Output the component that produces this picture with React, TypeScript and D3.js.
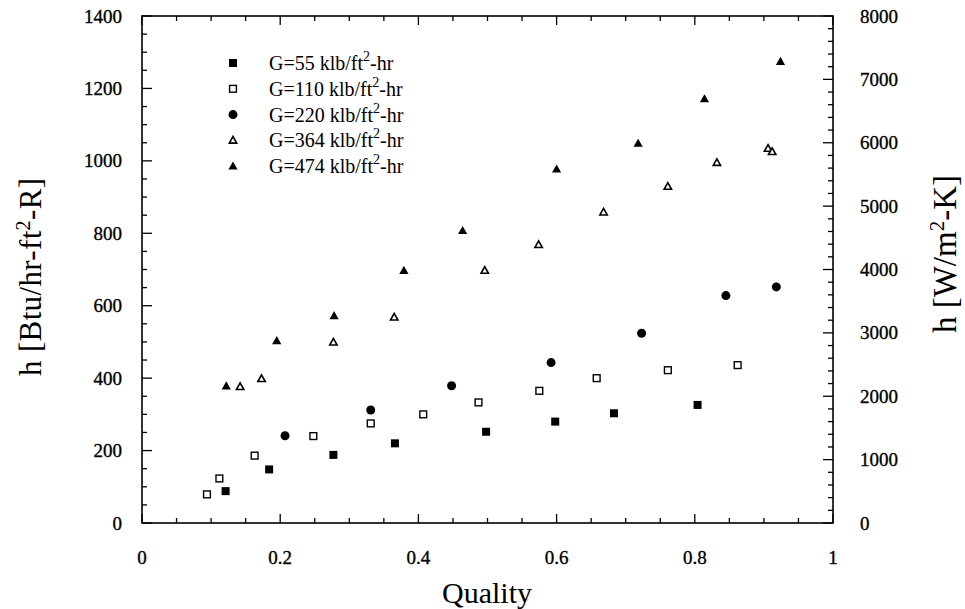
import React from "react";
import * as d3 from "d3";

const g55x = [0.121, 0.184, 0.277, 0.366, 0.498, 0.598, 0.683, 0.804];
const g55y = [88, 148, 188, 220, 252, 280, 303, 326];
const g110x = [0.094, 0.112, 0.163, 0.248, 0.331, 0.407, 0.487, 0.575, 0.658, 0.761, 0.862];
const g110y = [79, 123, 186, 240, 275, 300, 333, 365, 400, 422, 436];
const g220x = [0.207, 0.331, 0.448, 0.592, 0.723, 0.845, 0.918];
const g220y = [241, 312, 379, 443, 524, 628, 652];
const g364x = [0.142, 0.173, 0.277, 0.365, 0.496, 0.574, 0.668, 0.761, 0.832, 0.906, 0.912];
const g364y = [376, 398, 499, 568, 697, 768, 858, 929, 995, 1034, 1025];
const g474x = [0.122, 0.195, 0.278, 0.379, 0.464, 0.600, 0.718, 0.814, 0.924];
const g474y = [378, 503, 572, 697, 807, 977, 1048, 1171, 1274];

const seriesLabels = ["G=55", "G=110", "G=220", "G=364", "G=474"];
const xTicks = [0, 0.2, 0.4, 0.6, 0.8, 1];
const yLeftTicks = [0, 200, 400, 600, 800, 1000, 1200, 1400];
const yRightTicks = [0, 1000, 2000, 3000, 4000, 5000, 6000, 7000, 8000];

const FONT = "'Liberation Serif', 'DejaVu Serif', serif";

type Kind = "sqFill" | "sqOpen" | "circle" | "triOpen" | "triFill";
const kinds: Kind[] = ["sqFill", "sqOpen", "circle", "triOpen", "triFill"];

function Marker({ kind, cx, cy }: { kind: Kind; cx: number; cy: number }) {
  if (kind === "sqFill") return <rect x={cx - 4} y={cy - 4} width={8} height={8} fill="#000" />;
  if (kind === "sqOpen")
    return <rect x={cx - 3.4} y={cy - 3.4} width={6.8} height={6.8} fill="#fff" stroke="#000" strokeWidth={1.4} />;
  if (kind === "circle") return <circle cx={cx} cy={cy} r={4.5} fill="#000" />;
  const p = `M${cx},${cy - 4.8}L${cx + 4.6},${cy + 3.3}L${cx - 4.6},${cy + 3.3}Z`;
  if (kind === "triFill") return <path d={p} fill="#000" />;
  const q = `M${cx},${cy - 3.9}L${cx + 3.7},${cy + 2.7}L${cx - 3.7},${cy + 2.7}Z`;
  return <path d={q} fill="#fff" stroke="#000" strokeWidth={1.6} strokeLinejoin="miter" />;
}

export default function App() {
  const W = 965, H = 609;
  const left = 142, right = 833, top = 16, bottom = 523;
  const x = d3.scaleLinear().domain([0, 1]).range([left, right]);
  const yL = d3.scaleLinear().domain([0, 1400]).range([bottom, top]);
  const yR = d3.scaleLinear().domain([0, 8000]).range([bottom, top]);

  const data = [
    { xs: g55x, ys: g55y },
    { xs: g110x, ys: g110y },
    { xs: g220x, ys: g220y },
    { xs: g364x, ys: g364y },
    { xs: g474x, ys: g474y },
  ];

  const xMinor = d3.range(0, 1.0001, 0.05);
  const yLMinor = d3.range(0, 1400.1, 50);
  const yRMinor = d3.range(0, 8000.1, 200);
  const isMajor = (v: number, step: number) => Math.abs(v / step - Math.round(v / step)) < 1e-6;
  const tickLabelStyle = { fontSize: 19, fill: "#000", stroke: "#000", strokeWidth: 0.35 };

  return (
    <svg width={W} height={H} style={{ position: "absolute", left: 0, top: 0, background: "#fff" }} fontFamily={FONT}>
      <rect x={0} y={0} width={W} height={H} fill="#fff" />
      <rect x={left} y={top} width={right - left} height={bottom - top} fill="none" stroke="#000" strokeWidth={1.6} />
      {xMinor.map((v, i) => {
        const len = isMajor(v, 0.2) ? 9 : 5;
        return (
          <g key={"xt" + i}>
            <line x1={x(v)} x2={x(v)} y1={bottom} y2={bottom - len} stroke="#000" strokeWidth={1.3} />
            <line x1={x(v)} x2={x(v)} y1={top} y2={top + len} stroke="#000" strokeWidth={1.3} />
          </g>
        );
      })}
      {yLMinor.map((v, i) => {
        const len = isMajor(v, 200) ? 10 : 5;
        return <line key={"yl" + i} x1={left} x2={left + len} y1={yL(v)} y2={yL(v)} stroke="#000" strokeWidth={1.3} />;
      })}
      {yRMinor.map((v, i) => {
        const len = isMajor(v, 1000) ? 10 : 5;
        return <line key={"yr" + i} x1={right} x2={right - len} y1={yR(v)} y2={yR(v)} stroke="#000" strokeWidth={1.3} />;
      })}
      {xTicks.map((v, i) => (
        <text key={"xl" + i} x={x(v)} y={564} textAnchor="middle" style={tickLabelStyle}>
          {d3.format("~g")(v)}
        </text>
      ))}
      {yLeftTicks.map((v, i) => (
        <text key={"yll" + i} x={122} y={yL(v) + 6.5} textAnchor="end" style={tickLabelStyle}>
          {v}
        </text>
      ))}
      {yRightTicks.map((v, i) => (
        <text key={"yrl" + i} x={860} y={yR(v) + 6.5} textAnchor="start" style={tickLabelStyle}>
          {v}
        </text>
      ))}
      <text x={487} y={603} fontSize={30} textAnchor="middle" fill="#000">Quality</text>
      <text transform={`translate(41,277) rotate(-90)`} fontSize={31} textAnchor="middle" fill="#000"
        textLength={198} lengthAdjust="spacing">
        h [Btu/hr-ft<tspan dy={-11} fontSize={20}>2</tspan><tspan dy={11}>-R]</tspan>
      </text>
      <text transform={`translate(956,254) rotate(-90)`} fontSize={33} textAnchor="middle" fill="#000">
        h [W/m<tspan dy={-12} fontSize={21}>2</tspan><tspan dy={12}>-K]</tspan>
      </text>
      {data.map((s, si) =>
        s.xs.map((xv, i) => <Marker key={si + "-" + i} kind={kinds[si]} cx={x(xv)} cy={yL(s.ys[i])} />)
      )}
      {seriesLabels.map((lab, i) => {
        const cy = 63 + i * 25.8;
        return (
          <g key={"lg" + i}>
            <Marker kind={kinds[i]} cx={233} cy={cy} />
            <text x={269} y={cy + 7} fontSize={20} fill="#000">
              {lab} klb/ft<tspan dy={-9} fontSize={14}>2</tspan><tspan dy={9}>-hr</tspan>
            </text>
          </g>
        );
      })}
    </svg>
  );
}
